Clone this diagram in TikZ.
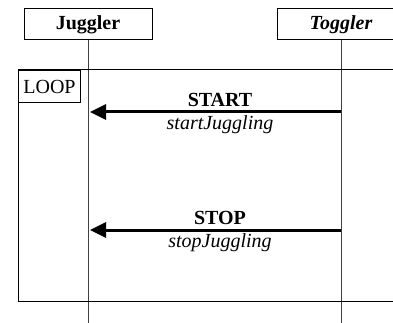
\documentclass[tikz,border=0pt]{standalone}
\usepackage{fontspec}
\setmainfont{Liberation Serif}
\usetikzlibrary{arrows.meta}
\begin{document}
\begin{tikzpicture}[x=1pt,y=-1pt,
  headbox/.style={draw,line width=1pt,minimum width=128pt,minimum height=31pt,inner sep=0pt,font=\fontsize{20}{24}\selectfont\bfseries},
  loopbox/.style={draw,line width=1pt,minimum width=62pt,minimum height=32pt,inner sep=0pt,font=\fontsize{20}{24}\selectfont},
  lifeline/.style={draw=black!75,line width=1pt},
  msg/.style={line width=3pt,-{Triangle[length=16pt,width=15pt]}},
  msgname/.style={font=\fontsize{20}{24}\selectfont\bfseries,inner sep=0pt},
  msgop/.style={font=\fontsize{20}{24}\selectfont\itshape,inner sep=0pt}]
\useasboundingbox (0,0) rectangle (393,323);
\clip (0,0) rectangle (393,323);
% heads
\node[headbox] (jug) at (88,24.5) {Juggler};
\node[headbox] (tog) at (341,24.5) {\itshape Toggler};
% lifeline ends
\coordinate (jugend) at (88,330);
\coordinate (togend) at (341,330);
\draw[lifeline] (jug.south) -- (jugend);
\draw[lifeline] (tog.south) -- (togend);
% loop frame
\draw[line width=1pt] (420,70) -- (18,70) -- (18,301) -- (420,301);
\node[loopbox,anchor=north west] (loop) at (18,70) {LOOP};
% messages
\coordinate (s1) at (341,112);
\coordinate (t1) at (90,112);
\coordinate (s2) at (341,230);
\coordinate (t2) at (90,230);
\draw[msg] (s1) -- (t1);
\draw[msg] (s2) -- (t2);
\node[msgname] (m1) at (220,100) {START};
\node[msgop] (o1) at (220,125) {startJuggling};
\node[msgname] (m2) at (220,218) {STOP};
\node[msgop] (o2) at (220,243) {stopJuggling};
\end{tikzpicture}
\end{document}
